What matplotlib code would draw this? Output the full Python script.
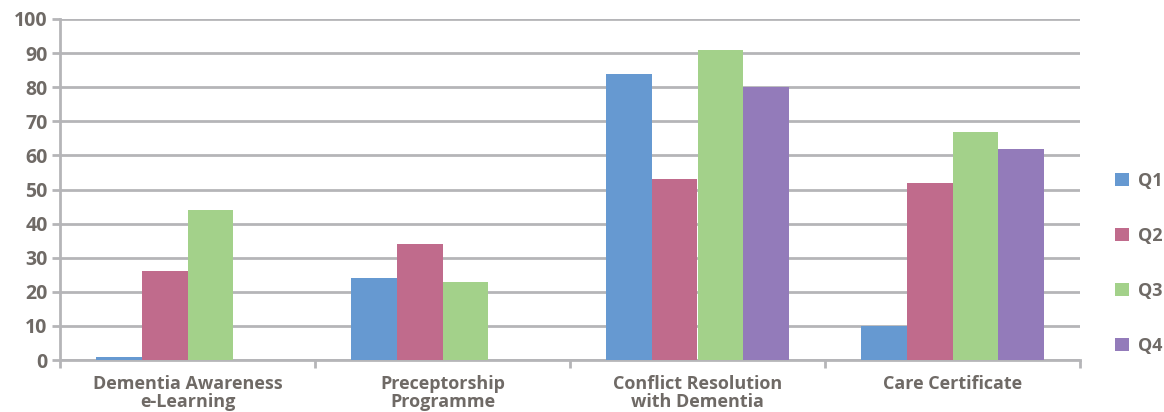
import matplotlib.pyplot as plt
import numpy as np

categories = ["Dementia Awareness\ne-Learning", "Preceptorship\nProgramme",
              "Conflict Resolution\nwith Dementia", "Care Certificate"]
series = ["Q1", "Q2", "Q3", "Q4"]
q1 = [1, 24, 84, 10]
q2 = [26, 34, 53, 52]
q3 = [44, 23, 91, 67]
q4 = [0, 0, 80, 62]
colors = ["#6699d1", "#c06b8c", "#a3d18a", "#937bba"]

plt.rcParams['font.family'] = ['Open Sans', 'DejaVu Sans']
plt.rcParams['font.weight'] = 'bold'
txt = "#6f6a66"
grid = "#b5b5b8"

fig = plt.figure(figsize=(11.64, 4.12), dpi=100)
ax = fig.add_axes([60/1164, 1 - 360/412, 1020/1164, 341/412])

x = np.arange(len(categories))
w = 0.18
for i, vals in enumerate([q1, q2, q3, q4]):
    ax.bar(x + (i - 1.5) * w, vals, w, color=colors[i], label=series[i], zorder=3)

ax.set_xlim(-0.5, 3.5)
ax.set_ylim(0, 100)
ax.set_yticks(range(0, 101, 10))
ax.yaxis.grid(True, color=grid, linewidth=2, zorder=0)
ax.set_xticks(x)
ax.set_xticklabels(categories, fontsize=13, fontweight='bold', color=txt, linespacing=1.0)
ax.set_xticks(np.arange(-0.5, 4, 1), minor=True)
ax.tick_params(axis='x', which='major', length=0, pad=11)
ax.tick_params(axis='x', which='minor', length=6, width=2, color=grid)
ax.tick_params(axis='y', length=6, width=2, color=grid, labelsize=14, labelcolor=txt, pad=3)
for lab in ax.get_yticklabels():
    lab.set_fontweight('bold')
for s in ['top', 'right']:
    ax.spines[s].set_visible(False)
for s in ['left', 'bottom']:
    ax.spines[s].set_color(grid)
    ax.spines[s].set_linewidth(2)

leg = fig.legend(loc='upper left', bbox_to_anchor=(1115/1164, 1 - 172/412), frameon=False,
                 handlelength=0.75, handleheight=0.75, handletextpad=0.5, labelspacing=2.05,
                 borderpad=0, borderaxespad=0, prop={'size': 13, 'weight': 'bold'})
for t in leg.get_texts():
    t.set_color(txt)

fig.savefig("out.png", dpi=100)
